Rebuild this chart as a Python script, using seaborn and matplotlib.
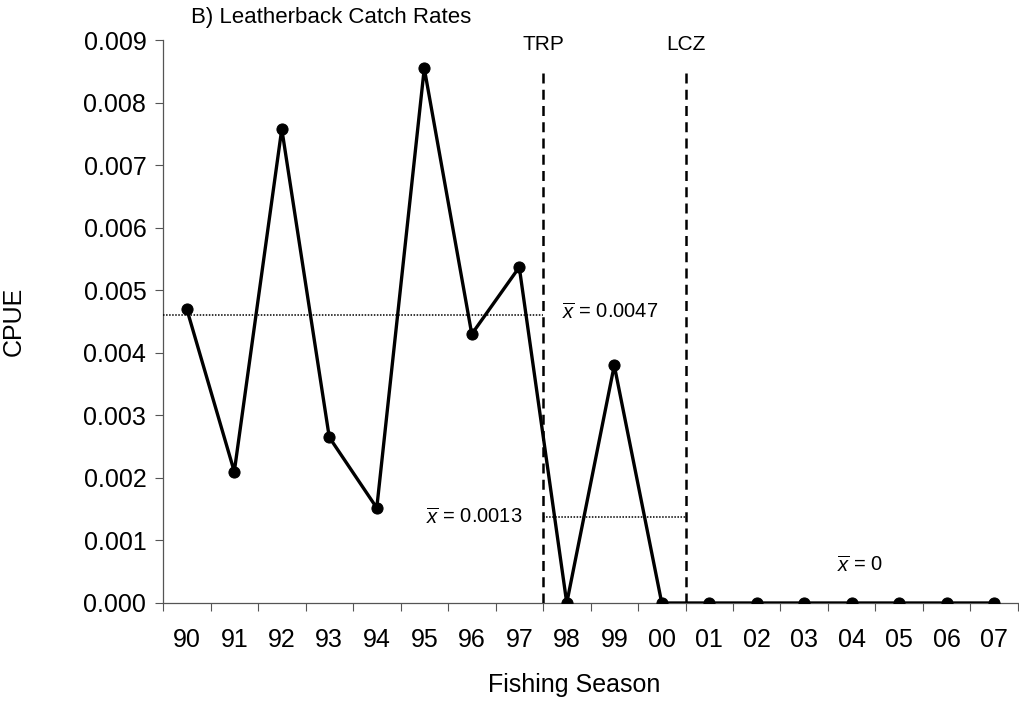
import numpy as np
import pandas as pd
import matplotlib
matplotlib.use("Agg")
import matplotlib.pyplot as plt
import seaborn as sns

seasons = ["90", "91", "92", "93", "94", "95", "96", "97", "98",
           "99", "00", "01", "02", "03", "04", "05", "06", "07"]
cpue = [0.0047, 0.0021, 0.00758, 0.00265, 0.00152, 0.00855, 0.0043, 0.00537, 0.0,
        0.0038, 0.0, 0.0, 0.0, 0.0, 0.0, 0.0, 0.0, 0.0]

# period means (drawn level / printed label)
mean_levels = [0.0046, 0.00138]
mean_labels = ["0.0047", "0.0013", "0"]
periods = [(-0.5, 7.5), (7.5, 10.5)]
breaks = [7.5, 10.5]
break_labels = ["TRP", "LCZ"]

sns.set_theme(style="white")
plt.rcParams["font.family"] = ["Liberation Sans", "DejaVu Sans"]
plt.rcParams["mathtext.fontset"] = "custom"
plt.rcParams["mathtext.it"] = "Liberation Sans:italic"
plt.rcParams["mathtext.rm"] = "Liberation Sans"
plt.rcParams["text.color"] = "black"
plt.rcParams["axes.labelcolor"] = "black"

df = pd.DataFrame({"season": seasons, "cpue": cpue})
df["pos"] = np.arange(len(df))

fig = plt.figure(figsize=(10.19, 7.17), dpi=100)
ax = fig.add_axes([0.16, 0.159, 0.839, 0.785])

sns.lineplot(data=df, x="pos", y="cpue", ax=ax, color="black", lw=2.4,
             marker="o", markersize=8, markeredgecolor="black", zorder=4)

for (x0, x1), lvl in zip(periods, mean_levels):
    ax.hlines(lvl, x0, x1, colors="black", linestyles=(0, (1, 1)), lw=1.1, zorder=3)

for xb, lab in zip(breaks, break_labels):
    ax.vlines(xb, 0, 0.00855, colors="black", linestyles=(0, (4, 2.5)), lw=1.8, zorder=3)
    ax.text(xb, 0.00893, lab, ha="center", va="center", fontsize=15)

ax.text(7.9, 0.00465, r"$\overline{x}$ = " + mean_labels[0], ha="left", va="center", fontsize=14.5)
ax.text(7.07, 0.00137, r"$\overline{x}$ = " + mean_labels[1], ha="right", va="center", fontsize=14.5)
ax.text(13.68, 0.0006, r"$\overline{x}$ = " + mean_labels[2], ha="left", va="center", fontsize=14.5)

ax.set_xlim(-0.5, 17.5)
ax.set_ylim(0, 0.009)
ax.set_yticks(np.arange(0, 0.0091, 0.001))
ax.set_yticklabels([f"{v:.3f}" for v in np.arange(0, 0.0091, 0.001)])

ax.set_xticks(np.arange(-0.5, 18, 1))
ax.set_xticklabels([])
ax.set_xticks(df["pos"], minor=True)
ax.set_xticklabels(seasons, minor=True)
ax.tick_params(axis="x", which="major", length=6, width=0.8, color="#555555", direction="out", bottom=True)
ax.tick_params(axis="x", which="minor", length=0, pad=18, labelsize=18, labelcolor="black")
ax.tick_params(axis="y", length=6, width=0.8, color="#555555", direction="out", left=True, pad=6,
               labelsize=18, labelcolor="black")

sns.despine(ax=ax)
for s in ["left", "bottom"]:
    ax.spines[s].set_color("#555555")
    ax.spines[s].set_linewidth(0.9)

ax.set_xlabel("Fishing Season", fontsize=18)
ax.set_ylabel("CPUE", fontsize=18)
ax.xaxis.set_label_coords(0.481, -0.125)
ax.yaxis.set_label_coords(-0.161, 0.5)

fig.text(0.187, 0.976, "B) Leatherback Catch Rates", ha="left", va="center", fontsize=16)

fig.savefig("out.png", dpi=100)
